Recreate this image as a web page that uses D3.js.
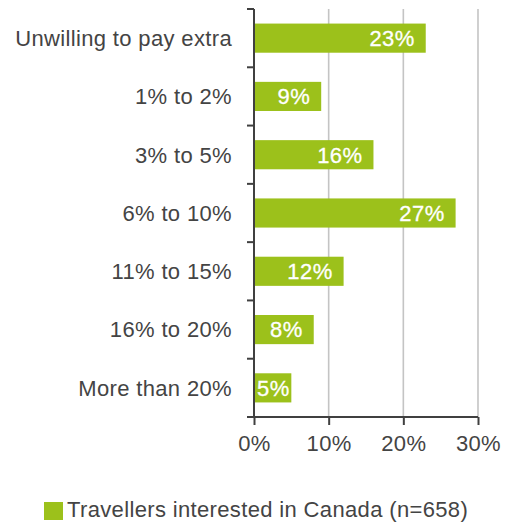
<!DOCTYPE html>
<html>
<head>
<meta charset="utf-8">
<script src="https://cdn.jsdelivr.net/npm/d3@7"></script>
<style>
  html, body { margin: 0; padding: 0; background: #fff; }
  svg { display: block; }
  text { font-family: "Liberation Sans", Arial, Helvetica, sans-serif; }
</style>
</head>
<body>
<script>
// Willingness to pay extra — travellers interested in Canada
const categories = [
  "Unwilling to pay extra",
  "1% to 2%",
  "3% to 5%",
  "6% to 10%",
  "11% to 15%",
  "16% to 20%",
  "More than 20%"
];
const values = [23, 9, 16, 27, 12, 8, 5];
const xTicks = [0, 10, 20, 30];
const seriesName = "Travellers interested in Canada (n=658)";

const W = 505, H = 522;
const green = "#9cc11b";
const textColor = "#444444";
const axisColor = "#404040";
const gridColor = "#c4c4c4";

const svg = d3.select("body").append("svg")
  .attr("width", W).attr("height", H);

const plotLeft = 254, plotRight = 478, plotTop = 9, plotBottom = 417;

const x = d3.scaleLinear().domain([0, 30]).range([plotLeft, plotRight]);
const y = d3.scaleBand().domain(categories).range([plotTop, plotBottom])
  .paddingInner(0.5).paddingOuter(0.25);
const band = d3.scaleBand().domain(categories).range([plotTop, plotBottom]);

// vertical gridlines
svg.append("g").selectAll("line")
  .data(xTicks.filter(t => t > 0))
  .join("line")
  .attr("x1", d => x(d)).attr("x2", d => x(d))
  .attr("y1", plotTop).attr("y2", plotBottom)
  .attr("stroke", gridColor).attr("stroke-width", 1.6);

// bars
svg.append("g").selectAll("rect")
  .data(values)
  .join("rect")
  .attr("x", x(0))
  .attr("y", (d, i) => y(categories[i]))
  .attr("width", d => x(d) - x(0))
  .attr("height", y.bandwidth())
  .attr("fill", green);

// value labels inside bar ends
const lbl = svg.append("g").selectAll("text")
  .data(values)
  .join("text")
  .attr("y", (d, i) => y(categories[i]) + y.bandwidth() / 2)
  .attr("dy", "0.36em")
  .attr("fill", "#fff")
  .attr("stroke", "#fff").attr("stroke-width", 0.3)
  .attr("font-size", 22)
  .attr("letter-spacing", 0.4)
  .attr("text-anchor", "start")
  .text(d => d + "%");
lbl.each(function(d) {
  const w = this.getComputedTextLength();
  const xe = Math.max(x(d) - 11 - w, x(0) + 3);
  d3.select(this).attr("x", xe);
});

// left axis (ticks at band boundaries)
const yAxisG = svg.append("g");
yAxisG.append("line")
  .attr("x1", plotLeft).attr("x2", plotLeft).attr("y1", plotTop).attr("y2", plotBottom)
  .attr("stroke", axisColor).attr("stroke-width", 2);
const bounds = categories.map(c => band(c)).concat([plotBottom]);
yAxisG.selectAll("line.tick")
  .data(bounds)
  .join("line").attr("class", "tick")
  .attr("x1", plotLeft - 7).attr("x2", plotLeft)
  .attr("y1", d => d).attr("y2", d => d)
  .attr("stroke", axisColor).attr("stroke-width", 2);

// category labels
svg.append("g").selectAll("text")
  .data(categories)
  .join("text")
  .attr("x", 232)
  .attr("y", d => band(d) + band.bandwidth() / 2)
  .attr("dy", "0.36em")
  .attr("text-anchor", "end")
  .attr("fill", textColor)
  .attr("font-size", 22)
  .attr("letter-spacing", 0.35)
  .text(d => d);

// bottom axis
const xAxis = d3.axisBottom(x).tickValues(xTicks)
  .tickFormat(d => d + "%").tickSize(8).tickSizeOuter(0).tickPadding(10);
const xg = svg.append("g").attr("transform", `translate(0,${plotBottom})`).call(xAxis);
xg.select(".domain").attr("stroke", axisColor).attr("stroke-width", 2)
  .attr("d", `M${plotLeft - 7},0H${plotRight}`);
xg.selectAll(".tick line").attr("stroke", axisColor).attr("stroke-width", 2);
xg.selectAll(".tick text")
  .attr("fill", textColor)
  .attr("font-size", 22)
  .attr("letter-spacing", 0.35)
  .attr("font-family", "'Liberation Sans', Arial, Helvetica, sans-serif");

// legend
const lg = svg.append("g");
lg.append("rect").attr("x", 44).attr("y", 502).attr("width", 19).attr("height", 18)
  .attr("fill", green);
lg.append("text").attr("x", 67).attr("y", 517)
  .attr("fill", textColor).attr("font-size", 22).attr("letter-spacing", 0.35)
  .text(seriesName);
</script>
</body>
</html>
